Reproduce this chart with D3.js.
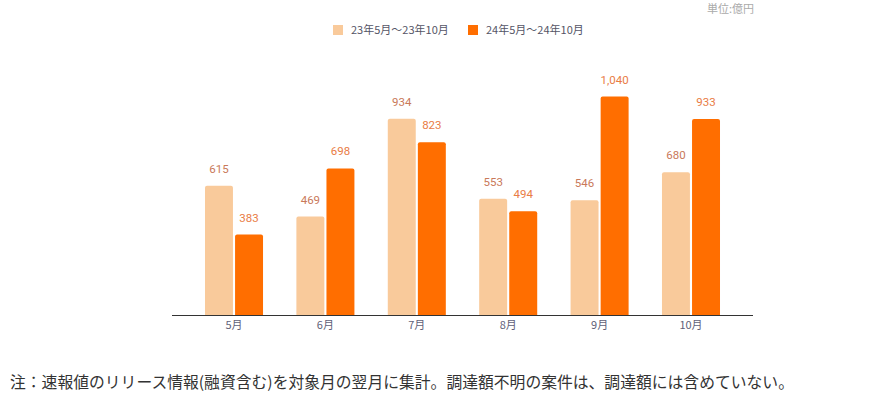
<!DOCTYPE html>
<html>
<head>
<meta charset="utf-8">
<script src="https://cdn.jsdelivr.net/npm/d3@7"></script>
<style>
  body { margin: 0; background: #fff; }
  svg text { font-family: "Noto Sans CJK JP", "Noto Sans", sans-serif; }
</style>
</head>
<body>
<svg id="chart" width="890" height="399"></svg>
<script>
var months = ["5月", "6月", "7月", "8月", "9月", "10月"];
var seriesNames = ["23年5月〜23年10月", "24年5月〜24年10月"];
var values2023 = [615, 469, 934, 553, 546, 680];
var values2024 = [383, 698, 823, 494, 1040, 933];

var colors = ["#f9ca9b", "#ff6e00"];
var labelColors = ["#c9795a", "#e97c45"];

var svg = d3.select("#chart"),
    baseY = 315,
    left = 172,
    right = 753;

var data = months.map(function(m, i) {
  return { month: m, vals: [values2023[i], values2024[i]] };
});

var x0 = d3.scaleBand()
    .domain(months)
    .range([left, right])
    .paddingInner(0.365)
    .paddingOuter(0.361);

var x1 = d3.scaleBand()
    .domain([0, 1])
    .range([0, x0.bandwidth()])
    .paddingInner(0.07);

var y = d3.scaleLinear()
    .domain([0, 1200])
    .range([baseY, 63]);

// bar with slightly rounded top corners
function barPath(x, y0, w, h, r) {
  return "M" + x + "," + (y0 + h) +
    "V" + (y0 + r) +
    "Q" + x + "," + y0 + " " + (x + r) + "," + y0 +
    "H" + (x + w - r) +
    "Q" + (x + w) + "," + y0 + " " + (x + w) + "," + (y0 + r) +
    "V" + (y0 + h) + "Z";
}

var groups = svg.append("g")
  .selectAll("g")
  .data(data)
  .enter().append("g")
    .attr("transform", function(d) { return "translate(" + x0(d.month) + ",0)"; });

var cells = groups.selectAll("g")
  .data(function(d) { return d.vals.map(function(v, k) { return { k: k, v: v }; }); })
  .enter().append("g");

cells.append("path")
    .attr("fill", function(d) { return colors[d.k]; })
    .attr("d", function(d) {
      return barPath(x1(d.k), y(d.v), x1.bandwidth(), baseY - y(d.v), 2);
    });

cells.append("text")
    .attr("x", function(d) { return x1(d.k) + x1.bandwidth() / 2; })
    .attr("y", function(d) { return y(d.v) - 13; })
    .attr("text-anchor", "middle")
    .attr("font-size", 11.5)
    .style("font-family", "Roboto, sans-serif")
    .attr("fill", function(d) { return labelColors[d.k]; })
    .text(function(d) { return d3.format(",")(d.v); });

// x axis
var xAxis = svg.append("g")
    .attr("transform", "translate(0," + baseY + ")")
    .call(d3.axisBottom(x0).tickSize(0).tickPadding(6));
xAxis.select(".domain").attr("stroke", "#333").attr("d", "M" + left + ",0.5H" + right);
xAxis.selectAll("text")
    .attr("fill", "#5f5f78")
    .attr("font-size", 11)
    .style("font-family", "'Noto Sans CJK JP', sans-serif");

// legend
var legend = svg.append("g");
var legendX = [333, 468];
seriesNames.forEach(function(name, k) {
  legend.append("rect")
      .attr("x", legendX[k])
      .attr("y", 25)
      .attr("width", 10)
      .attr("height", 10)
      .attr("fill", colors[k]);
  legend.append("text")
      .attr("x", legendX[k] + 18)
      .attr("y", 34)
      .attr("font-size", 11)
      .attr("fill", "#555566")
      .text(name);
});

// unit
svg.append("text")
    .attr("x", 754)
    .attr("y", 13)
    .attr("text-anchor", "end")
    .attr("font-size", 11)
    .attr("fill", "#aaaaaa")
    .text("単位:億円");

// note
svg.append("text")
    .attr("x", 10)
    .attr("y", 388)
    .attr("font-size", 15.8)
    .attr("fill", "#333")
    .text("注：速報値のリリース情報(融資含む)を対象月の翌月に集計。調達額不明の案件は、調達額には含めていない。");
</script>
</body>
</html>
